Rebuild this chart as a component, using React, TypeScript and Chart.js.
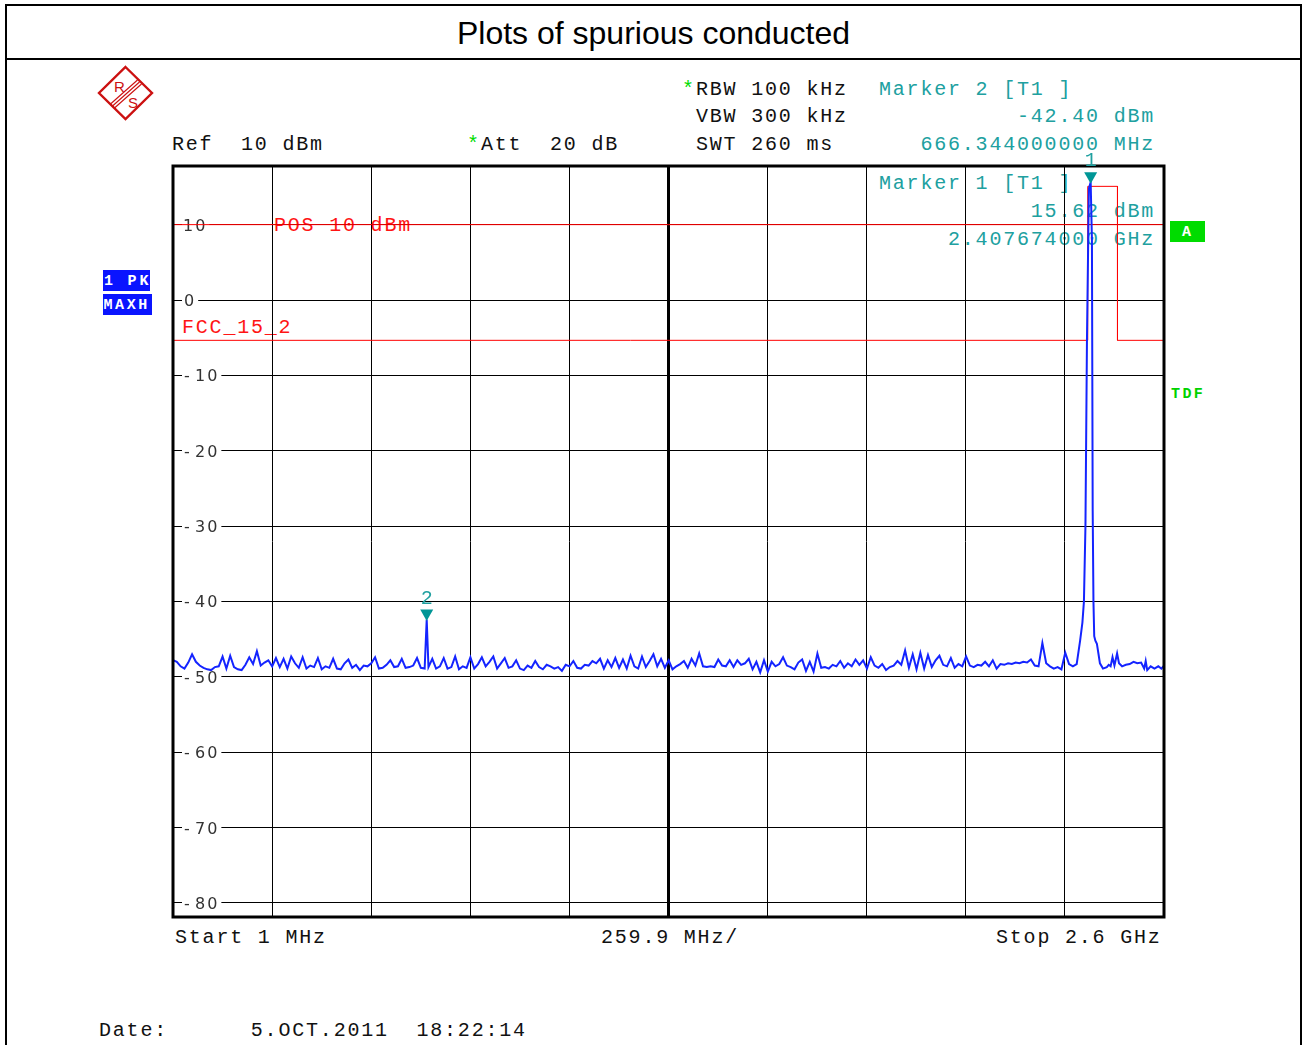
import React, { useEffect, useRef } from 'react';
import { Chart, registerables } from 'chart.js';

Chart.register(...registerables);

// ---------------- data ----------------
const START_MHZ = 1;
const STOP_MHZ = 2600;
const MHZ_PER_DIV = 259.9;
const xDivisions = 10;
const yTickValues = [10, 0, -10, -20, -30, -40, -50, -60, -70, -80];
const Y_MIN = -81.86;
const Y_MAX = 17.78;

// sweep noise floor (dBm), one reading every 10 MHz from 1 MHz to 2361 MHz
const noiseStartMHz = 1;
const noiseStepMHz = 10;
const noiseLevels = [
  -47.8, -48.0, -48.6, -48.9, -48.1, -47.0, -48.0, -48.5, -48.8, -49.0,
  -49.1, -48.7, -48.6, -47.3, -48.9, -47.2, -48.7, -49.0, -49.1, -48.4,
  -47.4, -48.3, -46.6, -48.5, -48.1, -47.8, -48.6, -47.5, -48.7, -47.6,
  -48.9, -47.3, -48.2, -48.8, -47.4, -48.9, -48.5, -48.7, -47.5, -49.0,
  -48.6, -48.8, -47.6, -48.9, -49.0, -48.2, -47.7, -48.8, -48.4, -49.1,
  -48.5, -48.6, -48.2, -47.4, -48.9, -48.8, -48.4, -47.8, -48.7, -48.6,
  -47.6, -48.8, -48.7, -48.5, -47.5, -48.8, -48.9, -48.7, -47.6, -48.9,
  -48.6, -47.5, -48.9, -48.7, -47.3, -49.0, -48.6, -48.8, -47.4, -48.9,
  -48.3, -47.4, -48.6, -48.0, -47.3, -48.9, -48.2, -47.5, -48.8, -48.6,
  -47.8, -48.9, -49.1, -48.5, -48.8, -47.9, -48.7, -49.0, -48.4, -48.6,
  -48.9, -48.7, -49.2, -48.4, -48.6, -47.9, -48.8, -48.9, -48.4, -48.5,
  -47.9, -48.2, -47.6, -48.9, -47.8, -48.7, -47.5, -48.8, -47.7, -48.9,
  -47.2, -48.6, -48.9, -47.3, -48.7, -47.9, -47.0, -48.6, -47.6, -48.8,
  -47.8, -49.0, -48.6, -48.3, -47.9, -48.8, -47.6, -48.5, -46.9, -48.6,
  -48.7, -48.6, -48.7, -47.7, -48.5, -48.6, -47.8, -48.7, -47.8, -48.4,
  -48.2, -47.6, -49.0, -48.0, -49.4, -47.8, -49.3, -48.0, -48.6, -48.3,
  -47.4, -48.5, -48.7, -49.0, -48.1, -47.7, -49.2, -48.0, -49.3, -46.9,
  -48.8, -48.7, -48.9, -48.4, -48.6, -47.9, -48.8, -48.2, -48.6, -47.7,
  -48.4, -47.8, -48.9, -47.4, -48.5, -48.8, -48.3, -49.1, -48.7, -48.5,
  -47.9, -48.4, -46.5, -48.8, -47.0, -49.0, -46.8, -48.9, -47.1, -48.7,
  -47.8, -47.2, -48.4, -48.6, -47.5, -48.8, -48.3, -48.6, -47.3, -48.5,
  -48.7, -48.4, -48.5, -48.0, -48.6, -47.8, -48.9, -48.3, -48.4, -48.2,
  -48.3, -48.1, -48.2, -48.0, -48.1, -47.7, -48.5, -48.6, -45.5, -48.2,
  -48.6, -48.9, -48.7, -49.0, -46.8, -48.3, -48.6,
];

// carrier region (MHz / dBm)
const peakFreqs = [2371, 2380, 2386, 2390, 2394, 2398, 2403, 2411, 2413, 2415, 2417, 2420, 2424, 2428, 2432, 2440];
const peakLevels = [-48.3, -45.2, -42.8, -40.0, -30.0, -5.0, 14.8, 8.0, -28.0, -40.0, -44.6, -45.2, -45.6, -46.9, -48.2, -48.9];

// above the carrier (MHz / dBm)
const tailFreqs = [2450, 2455, 2460, 2465, 2470, 2477, 2482, 2490, 2500, 2510, 2520, 2530, 2540, 2548, 2552, 2556, 2565, 2575, 2585, 2593, 2600];
const tailLevels = [-48.7, -48.4, -48.6, -47.4, -48.5, -46.9, -48.2, -48.6, -48.4, -48.3, -48.0, -48.2, -48.1, -48.9, -47.9, -49.1, -48.6, -48.9, -48.6, -48.9, -48.5];

// markers
const markerNames = ['2', '1'];
const markerFreqs = [666.344, 2407.674];
const markerLevels = [-42.4, 15.62];

// FCC_15_2 limit line
const limitFreqs = [1, 2400, 2400, 2478, 2478, 2600];
const limitLevels = [-5.35, -5.35, 15.08, 15.08, -5.35, -5.35];

// display line "POS 10 dBm"
const displayLineLevel = 10;

// ---------------- styles ----------------
const MONO = '"Liberation Mono", "Courier New", monospace';
const SANS = '"Liberation Sans", Arial, sans-serif';
const TEAL = 'rgb(32,160,160)';
const RED = 'rgb(255,20,20)';
const BLUE = 'rgb(20,36,255)';
const GREEN = 'rgb(0,220,0)';
const INK = '#111';

function buildTrace() {
  const pts: { x: number; y: number }[] = [];
  noiseLevels.forEach((v, i) => pts.push({ x: noiseStartMHz + i * noiseStepMHz, y: v }));
  peakFreqs.forEach((f, i) => pts.push({ x: f, y: peakLevels[i] }));
  tailFreqs.forEach((f, i) => pts.push({ x: f, y: tailLevels[i] }));
  markerFreqs.forEach((f, i) => pts.push({ x: f, y: markerLevels[i] }));
  pts.sort((a, b) => a.x - b.x);
  return pts;
}

const xGridValues = Array.from({ length: xDivisions + 1 }, (_, i) => START_MHZ + i * MHZ_PER_DIV);

const decor = {
  id: 'decor',
  beforeDatasetsDraw(chart: any) {
    const { ctx, chartArea, scales } = chart;
    const y = scales.y;
    ctx.save();
    ctx.font = '16px "DejaVu Sans", sans-serif';
    ctx.textBaseline = 'alphabetic';
    ctx.textAlign = 'left';
    (ctx as any).letterSpacing = '2px';
    for (const v of yTickValues) {
      const py = Math.round(y.getPixelForValue(v));
      const x0 = chartArea.left + 10;
      const neg = v < 0;
      const num = String(Math.abs(v));
      const numX = neg ? x0 + 12 : x0 + (v === 0 ? 1 : 0);
      const w = ctx.measureText(num).width;
      ctx.fillStyle = '#fff';
      ctx.fillRect(x0 - 1, py - 7, numX + w + 2 - (x0 - 1), 14);
      ctx.fillStyle = '#333';
      if (neg) ctx.fillText('-', x0 + 1, py + 6);
      ctx.fillText(num, numX, py + 6);
    }
    ctx.restore();
  },
  afterDatasetsDraw(chart: any) {
    const { ctx, chartArea, scales } = chart;
    const { x, y } = scales;
    ctx.save();
    ctx.strokeStyle = '#000';
    ctx.lineWidth = 3;
    ctx.strokeRect(chartArea.left, chartArea.top, chartArea.right - chartArea.left, chartArea.bottom - chartArea.top);
    markerFreqs.forEach((f, i) => {
      const px = x.getPixelForValue(f);
      const py = y.getPixelForValue(markerLevels[i]);
      ctx.fillStyle = 'rgb(0,150,150)';
      ctx.beginPath();
      ctx.moveTo(px - 6.5, py - 10);
      ctx.lineTo(px + 6.5, py - 10);
      ctx.lineTo(px, py + 1.5);
      ctx.closePath();
      ctx.fill();
      ctx.fillStyle = TEAL;
      ctx.font = '20px ' + MONO;
      ctx.textAlign = 'center';
      ctx.textBaseline = 'alphabetic';
      ctx.fillText(markerNames[i], px, py - 16);
    });
    ctx.restore();
  },
};

function T(props: { x: number; b: number; s?: number; ls?: number; c?: string; w?: number; f?: string; k?: number; children: any }) {
  const { x, b, s = 20, ls = 1.8, c = INK, w = 400, f = MONO, k = 0.766, children } = props;
  return (
    <div
      style={{
        position: 'absolute',
        left: x,
        top: b - s * k,
        fontFamily: f,
        fontSize: s,
        lineHeight: `${s}px`,
        letterSpacing: `${ls}px`,
        color: c,
        fontWeight: w,
        whiteSpace: 'pre',
      }}
    >
      {children}
    </div>
  );
}

function Box(props: { x: number; y: number; w: number; h: number; bg: string }) {
  return <div style={{ position: 'absolute', left: props.x, top: props.y, width: props.w, height: props.h, background: props.bg }} />;
}

export default function App() {
  const ref = useRef<HTMLCanvasElement>(null);

  useEffect(() => {
    const canvas = ref.current!;
    const trace = buildTrace();
    const chart = new Chart(canvas, {
      type: 'line',
      data: {
        datasets: [
          {
            label: 'Trace 1',
            data: trace,
            borderColor: BLUE,
            borderWidth: 2,
            pointRadius: 0,
            tension: 0,
            fill: false,
          },
          {
            label: 'FCC_15_2',
            data: limitFreqs.map((f, i) => ({ x: f, y: limitLevels[i] })),
            borderColor: 'rgb(255,0,0)',
            borderWidth: 1,
            pointRadius: 0,
            tension: 0,
            fill: false,
          },
          {
            label: 'POS',
            data: [
              { x: START_MHZ, y: displayLineLevel },
              { x: STOP_MHZ, y: displayLineLevel },
            ],
            borderColor: 'rgb(255,0,0)',
            borderWidth: 1,
            pointRadius: 0,
            fill: false,
          },
        ],
      },
      options: {
        responsive: false,
        animation: false,
        devicePixelRatio: 1,
        events: [],
        layout: { padding: { left: 173, top: 166, right: 139, bottom: 128 } },
        plugins: { legend: { display: false }, tooltip: { enabled: false }, title: { display: false } },
        scales: {
          x: {
            type: 'linear',
            min: START_MHZ,
            max: STOP_MHZ,
            afterBuildTicks: (s: any) => {
              s.ticks = xGridValues.map((v) => ({ value: v }));
            },
            afterFit: (s: any) => {
              s.height = 0;
            },
            ticks: { display: false },
            border: { display: false },
            grid: {
              color: '#000',
              drawTicks: false,
              lineWidth: (c: any) => (c.index === 5 ? 3 : 1),
            },
          },
          y: {
            type: 'linear',
            min: Y_MIN,
            max: Y_MAX,
            afterBuildTicks: (s: any) => {
              s.ticks = yTickValues.map((v) => ({ value: v }));
            },
            afterFit: (s: any) => {
              s.width = 0;
            },
            ticks: { display: false },
            border: { display: false },
            grid: { color: '#000', drawTicks: false, lineWidth: 1 },
          },
        },
      } as any,
      plugins: [decor as any],
    });
    return () => chart.destroy();
  }, []);

  return (
    <div style={{ position: 'absolute', left: 0, top: 0, width: 1303, height: 1045, background: '#fff', overflow: 'hidden' }}>
      {/* outer frame */}
      <div style={{ position: 'absolute', left: 5, top: 4, width: 1293, height: 1100, border: '2px solid #000' }} />
      <div style={{ position: 'absolute', left: 5, top: 58, width: 1297, height: 2, background: '#000' }} />
      <div
        style={{
          position: 'absolute',
          left: 5,
          width: 1297,
          top: 44.5 - 32 * 0.8465,
          fontFamily: SANS,
          fontSize: 32,
          lineHeight: '32px',
          textAlign: 'center',
          color: '#000',
        }}
      >
        Plots of spurious conducted
      </div>

      {/* R&S logo */}
      <svg style={{ position: 'absolute', left: 0, top: 0 }} width={200} height={140}>
        <polygon points="125.5,67 152,93 125.5,119 99,93" fill="none" stroke="#cc1111" strokeWidth={2.4} />
        <line x1={110.5} y1={104} x2={137.5} y2={80} stroke="#cc1111" strokeWidth={1.1} />
        <line x1={112.5} y1={106} x2={139.5} y2={82} stroke="#cc1111" strokeWidth={1.1} />
        <line x1={114.5} y1={108} x2={141.5} y2={84} stroke="#cc1111" strokeWidth={1.1} />
        <text x={114} y={92} fontFamily={SANS} fontSize={15} fill="#cc1111">R</text>
        <text x={128} y={108} fontFamily={SANS} fontSize={15} fill="#cc1111">S</text>
      </svg>

      {/* header */}
      <T x={172} b={150}>{'Ref  10 dBm'}</T>
      <T x={467} b={150} c={GREEN}>*</T>
      <T x={481} b={150}>{'Att  20 dB'}</T>
      <T x={682} b={95} c={GREEN}>*</T>
      <T x={696} b={95}>{'RBW 100 kHz'}</T>
      <T x={696} b={122}>{'VBW 300 kHz'}</T>
      <T x={696} b={150}>{'SWT 260 ms'}</T>
      <T x={879} b={95} c={TEAL}>{'Marker 2 [T1 ]'}</T>
      <T x={879} b={122} c={TEAL}>{'          -42.40 dBm'}</T>
      <T x={879} b={150} c={TEAL}>{'   666.344000000 MHz'}</T>

      {/* in-plot annotations (under the canvas) */}
      <T x={879} b={189} c={TEAL}>{'Marker 1 [T1 ]'}</T>
      <T x={879} b={217} c={TEAL}>{'           15.62 dBm'}</T>
      <T x={879} b={245} c={TEAL}>{'     2.407674000 GHz'}</T>
      <T x={274} b={231} c={RED}>{'POS 10 dBm'}</T>
      <T x={182} b={333} c={RED}>{'FCC_15_2'}</T>

      {/* side labels */}
      <Box x={103} y={270} w={47} h={21} bg="rgb(10,20,255)" />
      <T x={104} b={285.5} s={15} ls={2.8} c="#fff" w={700}>{'1 PK'}</T>
      <Box x={103} y={294} w={49} h={21} bg="rgb(10,20,255)" />
      <T x={103.5} b={309.5} s={15} ls={2.6} c="#fff" w={700}>{'MAXH'}</T>
      <Box x={1170} y={221} w={35} h={21} bg={GREEN} />
      <T x={1182} b={236.5} s={15} ls={0} c="#fff" w={700}>{'A'}</T>
      <T x={1171} b={398} s={15} ls={2.4} c="rgb(0,210,0)" w={700}>{'TDF'}</T>

      {/* footer */}
      <T x={175} b={943}>{'Start 1 MHz'}</T>
      <T x={601} b={943}>{'259.9 MHz/'}</T>
      <T x={996} b={943}>{'Stop 2.6 GHz'}</T>
      <T x={99} b={1036}>{'Date:      5.OCT.2011  18:22:14'}</T>

      <canvas
        ref={ref}
        width={1303}
        height={1045}
        style={{ position: 'absolute', left: 0, top: 0, width: 1303, height: 1045, zIndex: 1 }}
      />
    </div>
  );
}
